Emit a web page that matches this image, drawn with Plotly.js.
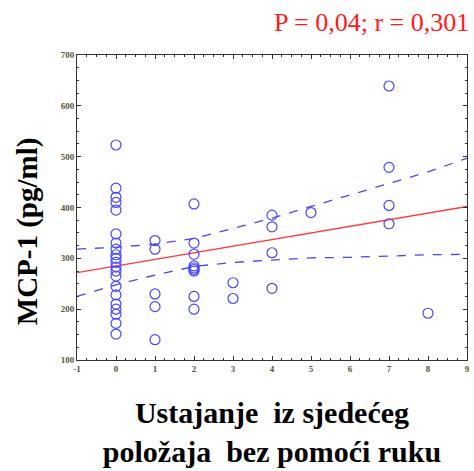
<!DOCTYPE html>
<html>
<head>
<meta charset="utf-8">
<script src="https://cdn.plot.ly/plotly-3.0.1.min.js"></script>
<style>html,body{margin:0;padding:0;background:#fff;}#chart{width:474px;height:471px;}</style>
</head>
<body>
<div id="chart"></div>
<script>
// Observed points: x = score, y = MCP-1 (pg/ml)
const xVals = [
  0,0,0,0,0,0,0,0,0,0,0,0,0,0,0,0,0,0,0,0,0,
  1,1,1,1,1,
  2,2,2,2,2,2,2,2,2,
  3,3,
  4,4,4,4,
  5,
  7,7,7,7,
  8
];
const yVals = [
  523,438,420,410,395,348,330,318,307,300,292,283,275,265,245,228,210,200,190,172,151,
  335,318,230,205,140,
  407,330,308,285,281,278,275,225,200,
  252,221,
  385,362,311,241,
  390,
  639,479,404,368,
  192
];
// Regression line
const fitX = [-1, 9];
const fitY = [272, 402];
// 95% confidence bands
const bandX = [-1,0,1,2,3,4,5,6,7,8,9];
const upperY = [318,322,328,339,359,379,402,425,448,470,497];
const lowerY = [225,248,267,284,292,297,301,302,305,307,308];

const xTicks = [-1,0,1,2,3,4,5,6,7,8,9];
const yTicks = [100,200,300,400,500,600,700];

const blue = 'rgb(70,70,255)';
const traces = [
  {x: bandX, y: upperY, mode:'lines', line:{color:blue, width:1.3, dash:'dash'}, hoverinfo:'skip'},
  {x: bandX, y: lowerY, mode:'lines', line:{color:blue, width:1.3, dash:'dash'}, hoverinfo:'skip'},
  {x: fitX, y: fitY, mode:'lines', line:{color:'rgb(255,60,60)', width:1.3}},
  {x: xVals, y: yVals, mode:'markers', marker:{symbol:'circle-open', size:10, color:blue, line:{width:1.2, color:blue}}}
];

const serif = 'Liberation Serif, Times New Roman, serif';
const tickFont = {family:serif, size:9, color:'#555533', weight:'bold'};
const layout = {
  width:474, height:471,
  margin:{l:77, r:7, t:55, b:111},
  showlegend:false,
  plot_bgcolor:'#fff', paper_bgcolor:'#fff',
  xaxis:{
    range:[-1,9], tickvals:xTicks, ticktext:xTicks.map(String),
    showgrid:false, zeroline:false, showline:true, linecolor:'#333', linewidth:1, mirror:'ticks',
    ticks:'inside', ticklen:4, tickcolor:'#333',
    minor:{dtick:0.25, ticks:'inside', ticklen:2, tickcolor:'#333'},
    tickfont:tickFont,
    title:{text:'Ustajanje  iz sjedećeg<br>položaja  bez pomoći ruku', standoff:29,
      font:{family:serif, size:30, color:'#000', weight:'bold'}}
  },
  yaxis:{
    range:[100,700], tickvals:yTicks, ticktext:yTicks.map(String),
    showgrid:false, zeroline:false, showline:true, linecolor:'#333', linewidth:1, mirror:'ticks',
    ticks:'inside', ticklen:4, tickcolor:'#333',
    minor:{dtick:25, ticks:'inside', ticklen:2, tickcolor:'#333'},
    tickfont:tickFont
  },
  annotations:[{
    text:'P = 0,04; r = 0,301', xref:'paper', yref:'paper', x:1.01, y:1.0, yshift:33,
    xanchor:'right', yanchor:'middle', showarrow:false,
    font:{family:serif, size:26, color:'#ff1a1a'}
  },{
    text:'<b>MCP-1 (pg/ml)</b>', xref:'paper', yref:'paper', x:-0.125, y:0.423,
    xanchor:'center', yanchor:'middle', textangle:-90, showarrow:false,
    font:{family:serif, size:29, color:'#000'}
  }]
};
Plotly.newPlot('chart', traces, layout, {displayModeBar:false, staticPlot:true});
</script>
</body>
</html>
